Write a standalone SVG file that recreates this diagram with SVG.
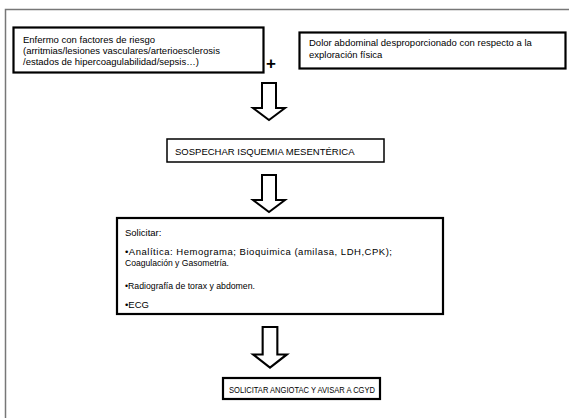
<svg xmlns="http://www.w3.org/2000/svg" width="569" height="418" viewBox="0 0 569 418">
  <style>
    .frame { fill: none; stroke: #777; stroke-width: 1.5; }
    .box { fill: #fff; stroke: #000; stroke-width: 2.2; }
    .box-thin { fill: #fff; stroke: #000; stroke-width: 1.5; }
    .arrow { fill: #fff; stroke: #000; stroke-width: 2; stroke-linejoin: miter; }
    text { font-family: "Liberation Sans", Arial, sans-serif; font-size: 9.5px; fill: #000; }
    .plus { font-size: 17px; font-weight: bold; }
  </style>
  <defs>
    <path id="down-arrow" d="M -7 0 L 7 0 L 7 25 L 16 25 L 0 37 L -16 25 L -7 25 Z"/>
  </defs>

  <!-- page frame -->
  <path class="frame" d="M 5.5 418 L 5.5 9.5 L 569 9.5"/>

  <g id="risk-factors">
    <rect class="box" x="13.5" y="27.5" width="250" height="45"/>
    <text x="23" y="43">Enfermo con factores de riesgo</text>
    <text x="23" y="54">(arritmias/lesiones vasculares/arterioesclerosis</text>
    <text x="23" y="65">/estados de hipercoagulabilidad/sepsis…)</text>
  </g>

  <g id="plus">
    <text class="plus" x="271" y="68.5" text-anchor="middle">+</text>
  </g>

  <g id="abdominal-pain">
    <rect class="box" x="299.5" y="32.5" width="266" height="36"/>
    <text x="309" y="46">Dolor abdominal desproporcionado con respecto a la</text>
    <text x="309" y="58">exploración física</text>
  </g>

  <g id="suspect">
    <rect class="box-thin" x="167" y="139" width="217" height="23"/>
    <text x="175" y="155">SOSPECHAR ISQUEMIA MESENTÉRICA</text>
  </g>

  <g id="request-tests">
    <rect class="box" x="117" y="218" width="326" height="96"/>
    <text x="125" y="236">Solicitar:</text>
    <text x="125" y="255" textLength="267" lengthAdjust="spacing">•Analítica: Hemograma; Bioquimica (amilasa, LDH,CPK);</text>
    <text x="125" y="266" textLength="104" lengthAdjust="spacingAndGlyphs">Coagulación y Gasometría.</text>
    <text x="125" y="289" textLength="130" lengthAdjust="spacingAndGlyphs">•Radiografía de torax y abdomen.</text>
    <text x="125" y="308">•ECG</text>
  </g>

  <g id="angiotac">
    <rect class="box" x="223" y="378" width="157" height="21"/>
    <text x="229" y="393" textLength="146" lengthAdjust="spacingAndGlyphs">SOLICITAR ANGIOTAC Y AVISAR A CGYD</text>
  </g>

  <g id="connectors">
    <use class="arrow" href="#down-arrow" x="269" y="83"/>
    <use class="arrow" href="#down-arrow" x="269" y="175"/>
    <use class="arrow" href="#down-arrow" transform="translate(270 327) scale(1.05 1.1)"/>
  </g>
</svg>
